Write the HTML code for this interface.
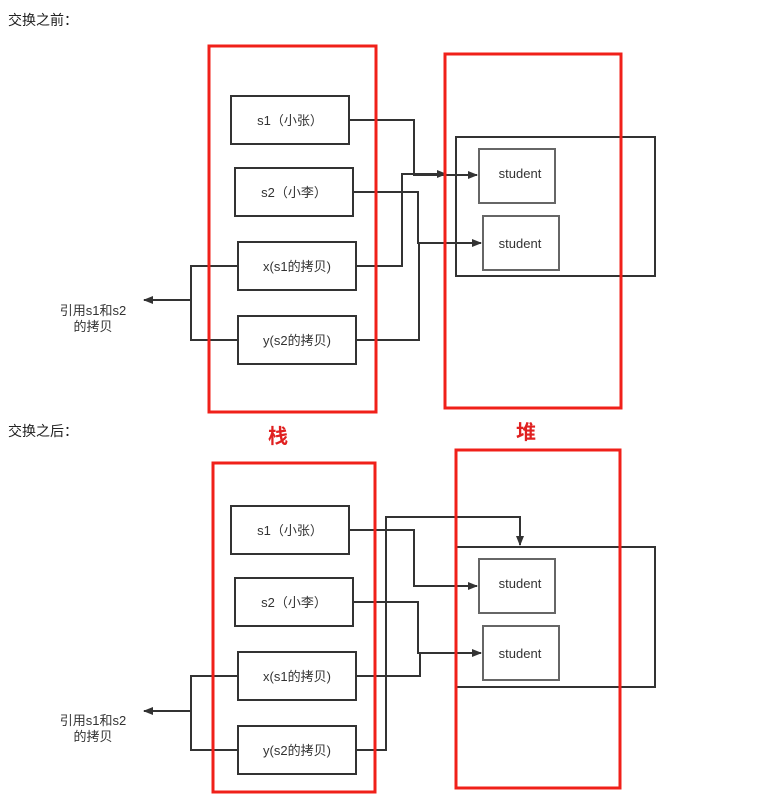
<!DOCTYPE html>
<html><head><meta charset="utf-8"><style>
body{margin:0;background:#fff}
svg{display:block}
text{font-family:"Liberation Sans","Noto Sans CJK SC",sans-serif}
</style></head><body>
<svg width="773" height="812" viewBox="0 0 773 812" xmlns="http://www.w3.org/2000/svg">
<defs>
<marker id="a" markerWidth="10" markerHeight="8" refX="9" refY="4" orient="auto" markerUnits="userSpaceOnUse"><path d="M0,0 L10,4 L0,8 z" fill="#333"/></marker>
</defs>
<g font-size="14" fill="#222">
<text x="8" y="25">交换之前：</text>
<text x="8" y="436">交换之后：</text>
</g>
<text x="278" y="443" font-size="20" font-weight="bold" fill="#e02020" text-anchor="middle">栈</text>
<text x="526" y="439" font-size="20" font-weight="bold" fill="#e02020" text-anchor="middle">堆</text>

<g fill="none" stroke="#333" stroke-width="2">
<!-- top -->
<rect x="456" y="137" width="199" height="139"/>
<polyline points="349,120 414,120 414,175 477,175" marker-end="url(#a)"/>
<polyline points="356,266 402,266 402,174 446,174" marker-end="url(#a)"/>
<polyline points="353,192 418,192 418,243 481,243" marker-end="url(#a)"/>
<polyline points="356,340 419,340 419,243"/>
<polyline points="238,266 191,266 191,340 238,340"/>
<polyline points="191,300 144,300" marker-end="url(#a)"/>
<rect x="231" y="96" width="118" height="48"/>
<rect x="235" y="168" width="118" height="48"/>
<rect x="238" y="242" width="118" height="48"/>
<rect x="238" y="316" width="118" height="48"/>
<!-- bottom -->
<rect x="456" y="547" width="199" height="140"/>
<polyline points="349,530 414,530 414,586 477,586" marker-end="url(#a)"/>
<polyline points="353,602 418,602 418,653 481,653" marker-end="url(#a)"/>
<polyline points="356,676 420,676 420,653"/>
<polyline points="356,750 386,750 386,517 520,517 520,545" marker-end="url(#a)"/>
<polyline points="238,676 191,676 191,750 238,750"/>
<polyline points="191,711 144,711" marker-end="url(#a)"/>
<rect x="231" y="506" width="118" height="48"/>
<rect x="235" y="578" width="118" height="48"/>
<rect x="238" y="652" width="118" height="48"/>
<rect x="238" y="726" width="118" height="48"/>
</g>
<g fill="#fff" stroke="#666" stroke-width="2">
<rect x="479" y="149" width="76" height="54"/>
<rect x="483" y="216" width="76" height="54"/>
<rect x="479" y="559" width="76" height="54"/>
<rect x="483" y="626" width="76" height="54"/>
</g>
<g fill="none" stroke="#f0201a" stroke-width="3">
<rect x="209" y="46" width="167" height="366"/>
<rect x="445" y="54" width="176" height="354"/>
<rect x="213" y="463" width="162" height="329"/>
<rect x="456" y="450" width="164" height="338"/>
</g>
<g font-size="13" fill="#333" text-anchor="middle">
<text x="290" y="125">s1（小张）</text>
<text x="294" y="197">s2（小李）</text>
<text x="297" y="271">x(s1的拷贝)</text>
<text x="297" y="345">y(s2的拷贝)</text>
<text x="290" y="535">s1（小张）</text>
<text x="294" y="607">s2（小李）</text>
<text x="297" y="681">x(s1的拷贝)</text>
<text x="297" y="755">y(s2的拷贝)</text>
<text x="520" y="178">student</text>
<text x="520" y="248">student</text>
<text x="520" y="588">student</text>
<text x="520" y="658">student</text>
<text x="93" y="315">引用s1和s2</text>
<text x="93" y="331">的拷贝</text>
<text x="93" y="725">引用s1和s2</text>
<text x="93" y="741">的拷贝</text>
</g>
</svg>
</body></html>
